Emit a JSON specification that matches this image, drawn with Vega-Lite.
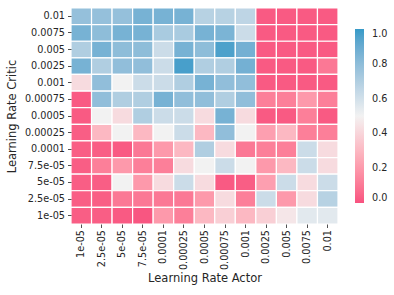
{
  "$schema": "https://vega.github.io/schema/vega-lite/v6.json",
  "width": 267,
  "height": 216,
  "autosize": {"type": "none"},
  "padding": {"left": 71, "top": 8, "right": 56, "bottom": 71},
  "background": "white",
  "config": {
    "view": {"stroke": null},
    "font": "DejaVu Sans",
    "axis": {"labelFont": "DejaVu Sans", "titleFont": "DejaVu Sans", "labelFontSize": 9.7, "titleFontSize": 11.5, "titleFontWeight": "normal", "labelColor": "#262626", "titleColor": "#262626", "tickColor": "#262626", "tickSize": 3.5, "tickWidth": 0.8, "domain": false, "grid": false},
    "legend": {"labelFont": "DejaVu Sans", "labelFontSize": 9.7, "labelColor": "#262626"}
  },
  "data": {"values": [
    {"critic":"0.01","actor":"1e-05","value":0.78},{"critic":"0.01","actor":"2.5e-05","value":0.78},{"critic":"0.01","actor":"5e-05","value":0.78},{"critic":"0.01","actor":"7.5e-05","value":0.86},{"critic":"0.01","actor":"0.0001","value":0.86},{"critic":"0.01","actor":"0.00025","value":0.86},{"critic":"0.01","actor":"0.0005","value":0.68},{"critic":"0.01","actor":"0.00075","value":0.68},{"critic":"0.01","actor":"0.001","value":0.66},{"critic":"0.01","actor":"0.0025","value":0.02},{"critic":"0.01","actor":"0.005","value":0.02},{"critic":"0.01","actor":"0.0075","value":0.02},{"critic":"0.01","actor":"0.01","value":0.02},
    {"critic":"0.0075","actor":"1e-05","value":0.86},{"critic":"0.0075","actor":"2.5e-05","value":0.8},{"critic":"0.0075","actor":"5e-05","value":0.86},{"critic":"0.0075","actor":"7.5e-05","value":0.86},{"critic":"0.0075","actor":"0.0001","value":0.72},{"critic":"0.0075","actor":"0.00025","value":0.72},{"critic":"0.0075","actor":"0.0005","value":0.86},{"critic":"0.0075","actor":"0.00075","value":0.85},{"critic":"0.0075","actor":"0.001","value":0.62},{"critic":"0.0075","actor":"0.0025","value":0.02},{"critic":"0.0075","actor":"0.005","value":0.02},{"critic":"0.0075","actor":"0.0075","value":0.02},{"critic":"0.0075","actor":"0.01","value":0.02},
    {"critic":"0.005","actor":"1e-05","value":0.7},{"critic":"0.005","actor":"2.5e-05","value":0.86},{"critic":"0.005","actor":"5e-05","value":0.8},{"critic":"0.005","actor":"7.5e-05","value":0.8},{"critic":"0.005","actor":"0.0001","value":0.62},{"critic":"0.005","actor":"0.00025","value":0.86},{"critic":"0.005","actor":"0.0005","value":0.8},{"critic":"0.005","actor":"0.00075","value":0.96},{"critic":"0.005","actor":"0.001","value":0.87},{"critic":"0.005","actor":"0.0025","value":0.02},{"critic":"0.005","actor":"0.005","value":0.02},{"critic":"0.005","actor":"0.0075","value":0.02},{"critic":"0.005","actor":"0.01","value":0.02},
    {"critic":"0.0025","actor":"1e-05","value":0.86},{"critic":"0.0025","actor":"2.5e-05","value":0.7},{"critic":"0.0025","actor":"5e-05","value":0.79},{"critic":"0.0025","actor":"7.5e-05","value":0.79},{"critic":"0.0025","actor":"0.0001","value":0.62},{"critic":"0.0025","actor":"0.00025","value":0.97},{"critic":"0.0025","actor":"0.0005","value":0.7},{"critic":"0.0025","actor":"0.00075","value":0.7},{"critic":"0.0025","actor":"0.001","value":0.87},{"critic":"0.0025","actor":"0.0025","value":0.02},{"critic":"0.0025","actor":"0.005","value":0.02},{"critic":"0.0025","actor":"0.0075","value":0.02},{"critic":"0.0025","actor":"0.01","value":0.1},
    {"critic":"0.001","actor":"1e-05","value":0.42},{"critic":"0.001","actor":"2.5e-05","value":0.79},{"critic":"0.001","actor":"5e-05","value":0.5},{"critic":"0.001","actor":"7.5e-05","value":0.62},{"critic":"0.001","actor":"0.0001","value":0.62},{"critic":"0.001","actor":"0.00025","value":0.7},{"critic":"0.001","actor":"0.0005","value":0.86},{"critic":"0.001","actor":"0.00075","value":0.79},{"critic":"0.001","actor":"0.001","value":0.79},{"critic":"0.001","actor":"0.0025","value":0.02},{"critic":"0.001","actor":"0.005","value":0.02},{"critic":"0.001","actor":"0.0075","value":0.02},{"critic":"0.001","actor":"0.01","value":0.02},
    {"critic":"0.00075","actor":"1e-05","value":0.02},{"critic":"0.00075","actor":"2.5e-05","value":0.79},{"critic":"0.00075","actor":"5e-05","value":0.7},{"critic":"0.00075","actor":"7.5e-05","value":0.7},{"critic":"0.00075","actor":"0.0001","value":0.86},{"critic":"0.00075","actor":"0.00025","value":0.79},{"critic":"0.00075","actor":"0.0005","value":0.79},{"critic":"0.00075","actor":"0.00075","value":0.7},{"critic":"0.00075","actor":"0.001","value":0.79},{"critic":"0.00075","actor":"0.0025","value":0.12},{"critic":"0.00075","actor":"0.005","value":0.12},{"critic":"0.00075","actor":"0.0075","value":0.2},{"critic":"0.00075","actor":"0.01","value":0.12},
    {"critic":"0.0005","actor":"1e-05","value":0.02},{"critic":"0.0005","actor":"2.5e-05","value":0.5},{"critic":"0.0005","actor":"5e-05","value":0.42},{"critic":"0.0005","actor":"7.5e-05","value":0.7},{"critic":"0.0005","actor":"0.0001","value":0.62},{"critic":"0.0005","actor":"0.00025","value":0.62},{"critic":"0.0005","actor":"0.0005","value":0.42},{"critic":"0.0005","actor":"0.00075","value":0.86},{"critic":"0.0005","actor":"0.001","value":0.42},{"critic":"0.0005","actor":"0.0025","value":0.02},{"critic":"0.0005","actor":"0.005","value":0.02},{"critic":"0.0005","actor":"0.0075","value":0.12},{"critic":"0.0005","actor":"0.01","value":0.02},
    {"critic":"0.00025","actor":"1e-05","value":0.03},{"critic":"0.00025","actor":"2.5e-05","value":0.3},{"critic":"0.00025","actor":"5e-05","value":0.5},{"critic":"0.00025","actor":"7.5e-05","value":0.3},{"critic":"0.00025","actor":"0.0001","value":0.5},{"critic":"0.00025","actor":"0.00025","value":0.62},{"critic":"0.00025","actor":"0.0005","value":0.3},{"critic":"0.00025","actor":"0.00075","value":0.79},{"critic":"0.00025","actor":"0.001","value":0.5},{"critic":"0.00025","actor":"0.0025","value":0.22},{"critic":"0.00025","actor":"0.005","value":0.3},{"critic":"0.00025","actor":"0.0075","value":0.12},{"critic":"0.00025","actor":"0.01","value":0.12},
    {"critic":"0.0001","actor":"1e-05","value":0.03},{"critic":"0.0001","actor":"2.5e-05","value":0.03},{"critic":"0.0001","actor":"5e-05","value":0.02},{"critic":"0.0001","actor":"7.5e-05","value":0.1},{"critic":"0.0001","actor":"0.0001","value":0.2},{"critic":"0.0001","actor":"0.00025","value":0.3},{"critic":"0.0001","actor":"0.0005","value":0.7},{"critic":"0.0001","actor":"0.00075","value":0.42},{"critic":"0.0001","actor":"0.001","value":0.1},{"critic":"0.0001","actor":"0.0025","value":0.12},{"critic":"0.0001","actor":"0.005","value":0.12},{"critic":"0.0001","actor":"0.0075","value":0.62},{"critic":"0.0001","actor":"0.01","value":0.42},
    {"critic":"7.5e-05","actor":"1e-05","value":0.03},{"critic":"7.5e-05","actor":"2.5e-05","value":0.12},{"critic":"7.5e-05","actor":"5e-05","value":0.2},{"critic":"7.5e-05","actor":"7.5e-05","value":0.12},{"critic":"7.5e-05","actor":"0.0001","value":0.12},{"critic":"7.5e-05","actor":"0.00025","value":0.42},{"critic":"7.5e-05","actor":"0.0005","value":0.5},{"critic":"7.5e-05","actor":"0.00075","value":0.62},{"critic":"7.5e-05","actor":"0.001","value":0.5},{"critic":"7.5e-05","actor":"0.0025","value":0.2},{"critic":"7.5e-05","actor":"0.005","value":0.3},{"critic":"7.5e-05","actor":"0.0075","value":0.62},{"critic":"7.5e-05","actor":"0.01","value":0.42},
    {"critic":"5e-05","actor":"1e-05","value":0.03},{"critic":"5e-05","actor":"2.5e-05","value":0.03},{"critic":"5e-05","actor":"5e-05","value":0.5},{"critic":"5e-05","actor":"7.5e-05","value":0.2},{"critic":"5e-05","actor":"0.0001","value":0.42},{"critic":"5e-05","actor":"0.00025","value":0.62},{"critic":"5e-05","actor":"0.0005","value":0.42},{"critic":"5e-05","actor":"0.00075","value":0.02},{"critic":"5e-05","actor":"0.001","value":0.03},{"critic":"5e-05","actor":"0.0025","value":0.22},{"critic":"5e-05","actor":"0.005","value":0.62},{"critic":"5e-05","actor":"0.0075","value":0.42},{"critic":"5e-05","actor":"0.01","value":0.62},
    {"critic":"2.5e-05","actor":"1e-05","value":0.03},{"critic":"2.5e-05","actor":"2.5e-05","value":0.03},{"critic":"2.5e-05","actor":"5e-05","value":0.1},{"critic":"2.5e-05","actor":"7.5e-05","value":0.1},{"critic":"2.5e-05","actor":"0.0001","value":0.1},{"critic":"2.5e-05","actor":"0.00025","value":0.1},{"critic":"2.5e-05","actor":"0.0005","value":0.2},{"critic":"2.5e-05","actor":"0.00075","value":0.42},{"critic":"2.5e-05","actor":"0.001","value":0.12},{"critic":"2.5e-05","actor":"0.0025","value":0.62},{"critic":"2.5e-05","actor":"0.005","value":0.2},{"critic":"2.5e-05","actor":"0.0075","value":0.42},{"critic":"2.5e-05","actor":"0.01","value":0.68},
    {"critic":"1e-05","actor":"1e-05","value":0.03},{"critic":"1e-05","actor":"2.5e-05","value":0.03},{"critic":"1e-05","actor":"5e-05","value":0.02},{"critic":"1e-05","actor":"7.5e-05","value":0.01},{"critic":"1e-05","actor":"0.0001","value":0.2},{"critic":"1e-05","actor":"0.00025","value":0.12},{"critic":"1e-05","actor":"0.0005","value":0.3},{"critic":"1e-05","actor":"0.00075","value":0.38},{"critic":"1e-05","actor":"0.001","value":0.3},{"critic":"1e-05","actor":"0.0025","value":0.38},{"critic":"1e-05","actor":"0.005","value":0.46},{"critic":"1e-05","actor":"0.0075","value":0.55},{"critic":"1e-05","actor":"0.01","value":0.55}
  ]},
  "mark": {"type": "rect", "stroke": "white", "strokeWidth": 1.2},
  "encoding": {
    "x": {"field": "actor", "type": "ordinal", "sort": ["1e-05","2.5e-05","5e-05","7.5e-05","0.0001","0.00025","0.0005","0.00075","0.001","0.0025","0.005","0.0075","0.01"], "scale": {"paddingInner": 0, "paddingOuter": 0}, "axis": {"title": "Learning Rate Actor", "labelAngle": 270, "labelPadding": 2, "titlePadding": 3}},
    "y": {"field": "critic", "type": "ordinal", "sort": ["0.01","0.0075","0.005","0.0025","0.001","0.00075","0.0005","0.00025","0.0001","7.5e-05","5e-05","2.5e-05","1e-05"], "scale": {"paddingInner": 0, "paddingOuter": 0}, "axis": {"title": "Learning Rate Critic", "labelPadding": 3, "titlePadding": 7}},
    "color": {"field": "value", "type": "quantitative", "scale": {"domain": [0, 0.5, 1], "range": ["#f8527f", "#f2f2f2", "#369ac8"]}, "legend": {"title": null, "orient": "none", "legendX": 284, "legendY": 21, "direction": "vertical", "gradientLength": 174, "gradientThickness": 9, "gradientStrokeWidth": 0, "values": [0, 0.2, 0.4, 0.6, 0.8, 1.0], "format": ".1f", "labelOffset": 8, "labelBaseline": "middle", "labelOverlap": false}}
  }
}
